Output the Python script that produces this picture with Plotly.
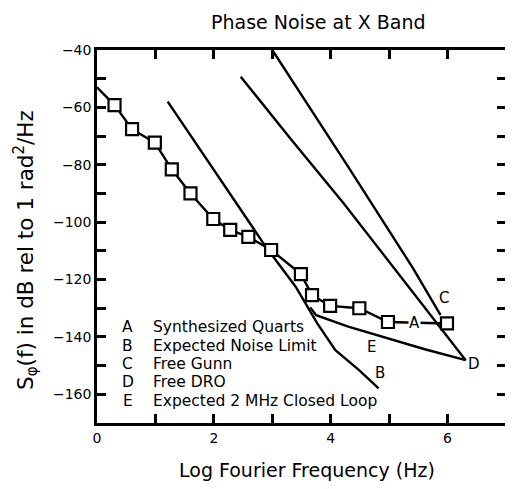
import plotly.graph_objects as go

# Curve A: Synthesized Quarts (first point is the line start, no marker)
a_x = [0.0, 0.30, 0.60, 0.99, 1.28, 1.60, 1.99, 2.28, 2.59, 2.98, 3.49, 3.68, 3.99, 4.49, 4.98, 5.99]
a_y = [-53.0, -59.2, -67.6, -72.3, -81.6, -90.0, -98.9, -102.7, -105.1, -109.7, -118.1, -125.4, -129.2, -130.0, -134.8, -135.3]
# Curve B: Expected Noise Limit
b_x = [1.21, 2.89, 3.40, 3.77, 4.08, 4.48, 4.82]
b_y = [-58.0, -108.6, -122.5, -135.3, -144.6, -151.5, -157.9]
# Curve C: Free Gunn
c_x = [3.0, 4.3, 5.41, 5.88]
c_y = [-40.0, -80.7, -116.1, -132.4]
# Curve D: Free DRO
d_x = [2.46, 3.33, 4.22, 4.80, 5.10, 6.31]
d_y = [-49.3, -71.4, -93.4, -108.6, -116.1, -148.1]
# Curve E: Expected 2 MHz Closed Loop
e_x = [3.65, 3.75, 4.30, 5.61, 6.31]
e_y = [-129.7, -132.4, -136.4, -144.3, -148.1]

curve_labels = ["A", "B", "C", "D", "E"]
curve_label_x = [5.44, 4.84, 5.94, 6.45, 4.69]
curve_label_y = [-135.3, -152.7, -126.4, -149.4, -143.6]

legend_keys = ["A", "B", "C", "D", "E"]
legend_names = ["Synthesized Quarts", "Expected Noise Limit", "Free Gunn", "Free DRO",
                "Expected 2 MHz Closed Loop"]
legend_y = [-136.7, -143.2, -149.4, -155.6, -162.2]

X_RANGE = [0, 7]
Y_RANGE = [-170, -40]
X_TICKS = [0, 1, 2, 3, 4, 5, 6, 7]
X_TICKTEXT = ["0", " ", "2", " ", "4", " ", "6", " "]
Y_TICKS = [-170, -160, -150, -140, -130, -120, -110, -100, -90, -80, -70, -60, -50, -40]
Y_TICKTEXT = [" ", "\u2212160", " ", "\u2212140", " ", "\u2212120", " ", "\u2212100",
              " ", "\u221280", " ", "\u221260", " ", "\u221240"]

FONT = "DejaVu Sans"
LW = 2.4

fig = go.Figure()
for xs, ys in [(b_x, b_y), (c_x, c_y), (d_x, d_y), (e_x, e_y)]:
    fig.add_trace(go.Scatter(x=xs, y=ys, mode="lines",
                             line=dict(color="black", width=LW), showlegend=False,
                             hoverinfo="skip"))
fig.add_trace(go.Scatter(x=a_x, y=a_y, mode="lines",
                         line=dict(color="black", width=LW), showlegend=False))
fig.add_trace(go.Scatter(x=a_x[1:], y=a_y[1:], mode="markers", xaxis="x2", yaxis="y2",
                         marker=dict(symbol="square", size=12, color="white",
                                     line=dict(color="black", width=2.2)),
                         showlegend=False))

annotations = []
for t, x, y in zip(curve_labels, curve_label_x, curve_label_y):
    annotations.append(dict(x=x, y=y, xref="x", yref="y", text=t, showarrow=False,
                            xanchor="center", yanchor="middle",
                            font=dict(family=FONT, size=15, color="black"),
                            bgcolor="white" if t == "A" else None, borderpad=0))
for k, n, y in zip(legend_keys, legend_names, legend_y):
    annotations.append(dict(x=0.53, y=y, xref="x", yref="y", text=k, showarrow=False,
                            xanchor="center", yanchor="middle",
                            font=dict(family=FONT, size=15.5, color="black")))
    annotations.append(dict(x=0.93, y=y, xref="x", yref="y", text=n, showarrow=False,
                            xanchor="left", yanchor="middle",
                            font=dict(family=FONT, size=15.5, color="black")))
annotations.append(dict(x=0.54, y=1.075, xref="paper", yref="paper",
                        xanchor="center", yanchor="middle",
                        text="Phase Noise at X Band", showarrow=False,
                        font=dict(family=FONT, size=19, color="black")))
annotations.append(dict(x=0.513, y=-0.125, xref="paper", yref="paper",
                        xanchor="center", yanchor="middle",
                        text="Log Fourier Frequency (Hz)", showarrow=False,
                        font=dict(family=FONT, size=19, color="black")))
annotations.append(dict(x=-0.175, y=0.465, xref="paper", yref="paper", textangle=-90,
                        xanchor="center", yanchor="middle",
                        text="S<sub>\u03c6</sub>(f) in dB rel to 1 rad<sup>2</sup>/Hz",
                        showarrow=False,
                        font=dict(family=FONT, size=21.5, color="black")))

tick_style = dict(ticks="inside", ticklen=9, tickwidth=2.5, tickcolor="black")
axis_common = dict(showline=True, linecolor="black", linewidth=2.5, mirror=True,
                   showgrid=False, zeroline=False, tickmode="array",
                   tickfont=dict(family=FONT, size=14, color="black"), **tick_style)
overlay_common = dict(showticklabels=False, showline=False, showgrid=False,
                      zeroline=False, tickmode="array", **tick_style)

# page body has an 8px margin: shift the figure so the plot area sits where the reference has it
fig.update_layout(
    width=513, height=489,
    margin=dict(l=89, r=13, t=42, b=74),
    paper_bgcolor="white", plot_bgcolor="white",
    xaxis=dict(range=X_RANGE, tickvals=X_TICKS, ticktext=X_TICKTEXT, **axis_common),
    yaxis=dict(range=Y_RANGE, tickvals=Y_TICKS, ticktext=Y_TICKTEXT, **axis_common),
    xaxis2=dict(range=X_RANGE, overlaying="x", side="top", anchor="y",
                tickvals=X_TICKS, **overlay_common),
    yaxis2=dict(range=Y_RANGE, overlaying="y", side="right", anchor="x",
                tickvals=Y_TICKS, **overlay_common),
    annotations=annotations,
    showlegend=False,
)

fig.write_html("out.html")
